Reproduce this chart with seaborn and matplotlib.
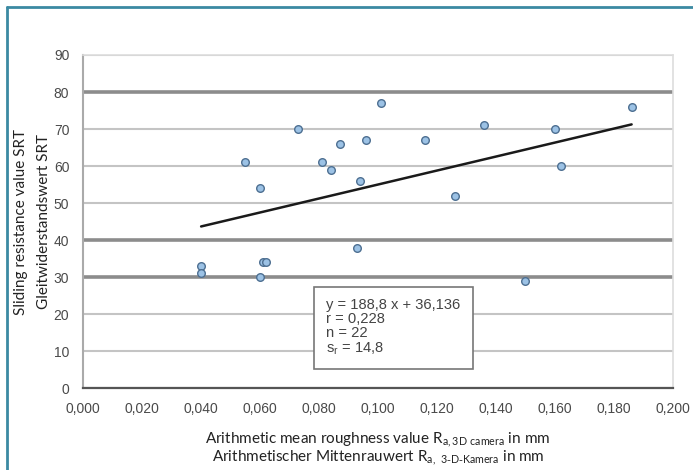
import matplotlib
matplotlib.use("Agg")
import matplotlib.pyplot as plt
from matplotlib.lines import Line2D
from matplotlib.ticker import FuncFormatter
import seaborn as sns
import numpy as np
import pandas as pd

# data
ra_mm = [0.040, 0.040, 0.055, 0.060, 0.060, 0.061, 0.062, 0.073, 0.081, 0.084, 0.087,
         0.093, 0.094, 0.096, 0.101, 0.116, 0.126, 0.136, 0.150, 0.160, 0.162, 0.186]
srt = [33, 31, 61, 54, 30, 34, 34, 70, 61, 59, 66,
       38, 56, 67, 77, 67, 52, 71, 29, 70, 60, 76]

# regression as printed on the chart
slope = 188.8
intercept = 36.136
stats_lines = ["y = 188,8 x + 36,136", "r = 0,228", "n = 22", "s$_\\mathregular{r}$ = 14,8"]

x_ticks = [0.000, 0.020, 0.040, 0.060, 0.080, 0.100, 0.120, 0.140, 0.160, 0.180, 0.200]
y_ticks = [0, 10, 20, 30, 40, 50, 60, 70, 80, 90]
strong_grid = [30, 40, 80]

sns.set_style("white")
plt.rcParams['font.family'] = ['Liberation Sans', 'DejaVu Sans']

df = pd.DataFrame({"ra": ra_mm, "srt": srt})

fig, ax = plt.subplots(figsize=(6.93, 4.70), dpi=100)
fig.subplots_adjust(left=0.12, right=0.971, top=0.883, bottom=0.174)

sns.scatterplot(data=df, x="ra", y="srt", ax=ax, s=30, color="#9cc2e5",
                edgecolor="#4d6f91", linewidth=1.0, zorder=4)

fit_x = np.array([min(ra_mm), max(ra_mm)])
sns.lineplot(x=fit_x, y=slope * fit_x + intercept, ax=ax, color="#1a1a1a",
             linewidth=1.8, zorder=3)

ax.set_xlim(0, 0.2)
ax.set_ylim(0, 90)
ax.set_xticks(x_ticks)
ax.set_yticks(y_ticks)
ax.xaxis.set_major_formatter(FuncFormatter(lambda v, p: f"{v:.3f}".replace(".", ",")))
ax.tick_params(axis="both", labelsize=10, labelcolor="#4a4a4a", direction="out",
               length=4, width=1.2, color="#777777", pad=6)

ax.grid(axis="y", color="#c4c4c4", linewidth=1.5)
for val, gl in zip(y_ticks, ax.get_ygridlines()):
    if val in strong_grid:
        gl.set_color("#8c8c8c")
        gl.set_linewidth(2.6)
ax.set_axisbelow(True)

for side in ["top", "right"]:
    ax.spines[side].set_color("#dddddd")
    ax.spines[side].set_linewidth(1.2)
ax.spines["left"].set_color("#aaaaaa")
ax.spines["left"].set_linewidth(1.5)
ax.spines["bottom"].set_color("#555555")
ax.spines["bottom"].set_linewidth(1.6)

ax.set_xlabel("Arithmetic mean roughness value R$_\\mathregular{a,3D\\ camera}$ in mm\n"
              "Arithmetischer Mittenrauwert R$_\\mathregular{a,\\ 3\\text{-}D\\text{-}Kamera}$ in mm",
              family=["Lato", "DejaVu Sans"], fontsize=11, color="#222222",
              linespacing=1.0)
ax.xaxis.set_label_coords(0.5, -0.125)
ax.set_ylabel("Sliding resistance value SRT\nGleitwiderstandswert SRT",
              family=["Lato", "DejaVu Sans"], fontsize=11, color="#222222",
              linespacing=1.8)
ax.yaxis.set_label_coords(-0.055, 0.5)

ax.text(0.0825, 24.4, "\n".join(stats_lines), fontsize=10.6, color="#444444",
        va="top", ha="left", linespacing=1.0, zorder=6,
        bbox=dict(boxstyle="square,pad=0.85", facecolor="white", edgecolor="#777777",
                  linewidth=1.2))

# teal frame around the figure (top and left)
fx = 7 / 693
fy = 1 - 7 / 470
fig.add_artist(Line2D([fx, 1], [fy, fy], transform=fig.transFigure, color="#3b8aa2", linewidth=2))
fig.add_artist(Line2D([fx, fx], [0, fy], transform=fig.transFigure, color="#3b8aa2", linewidth=2))

fig.savefig("out.png", dpi=100)
